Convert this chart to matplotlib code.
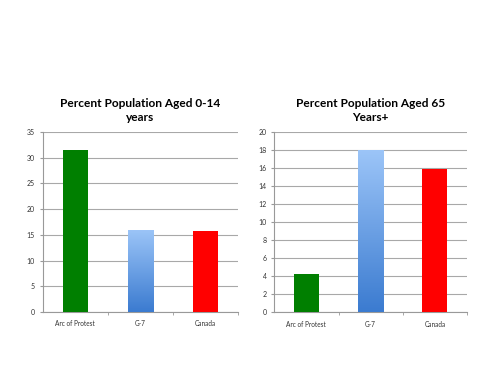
import matplotlib
matplotlib.use("Agg")
import matplotlib.pyplot as plt
import numpy as np
from matplotlib.colors import LinearSegmentedColormap

categories = ["Arc of Protest", "G-7", "Canada"]
young_values = [31.5, 16.0, 15.7]
old_values = [4.3, 18.0, 15.9]
young_ticks = [0, 5, 10, 15, 20, 25, 30, 35]
old_ticks = [0, 2, 4, 6, 8, 10, 12, 14, 16, 18, 20]
titles = ["Percent Population Aged 0-14\nyears", "Percent Population Aged 65\nYears+"]

plt.rcParams['font.family'] = ['Lato', 'DejaVu Sans']

fig = plt.figure(figsize=(5, 3.75), dpi=100)
fig.patch.set_facecolor("white")

positions = [[0.0854, 0.168, 0.3906, 0.48], [0.5486, 0.167, 0.3854, 0.48]]
datasets = [young_values, old_values]
tick_sets = [young_ticks, old_ticks]

grad = np.linspace(0, 1, 256).reshape(-1, 1)
blue_cmap = LinearSegmentedColormap.from_list("bl", ["#3b7bd0", "#9cc5f8"])

for pos, vals, ticks, title in zip(positions, datasets, tick_sets, titles):
    ax = fig.add_axes(pos)
    x = np.arange(len(categories))
    bars = ax.bar(x, vals, width=0.39, color=["#007f00", "none", "#ff0000"], zorder=3)
    b = bars[1]
    x0, y0 = b.get_x(), b.get_y()
    w, h = b.get_width(), b.get_height()
    im = ax.imshow(grad, cmap=blue_cmap, origin="lower", aspect="auto",
                   extent=[x0, x0 + w, y0, y0 + h], zorder=3)
    im.set_clip_path(b)
    ax.set_xlim(-0.5, 2.5)
    ax.set_ylim(0, ticks[-1])
    ax.set_yticks(ticks)
    ax.set_xticks(x)
    ax.set_xticklabels(categories)
    ax.set_xticks([0.5, 1.5, 2.5], minor=True)
    ax.tick_params(axis="x", which="major", length=0, labelsize=4.7, colors="#333333", pad=6)
    ax.tick_params(axis="x", which="minor", length=2, color="#999999")
    ax.tick_params(axis="y", length=2.5, labelsize=5, colors="#333333", pad=3, color="#999999")
    ax.yaxis.grid(True, color="#a8a8a8", linewidth=0.8, zorder=0)
    ax.set_axisbelow(True)
    for s in ["top", "right"]:
        ax.spines[s].set_visible(False)
    for s in ["left", "bottom"]:
        ax.spines[s].set_color("#999999")
        ax.spines[s].set_linewidth(0.8)
    ax.set_title(title, fontsize=8.6, fontweight="bold", pad=8, linespacing=1.35)

fig.savefig("out.png", dpi=100, facecolor="white")
